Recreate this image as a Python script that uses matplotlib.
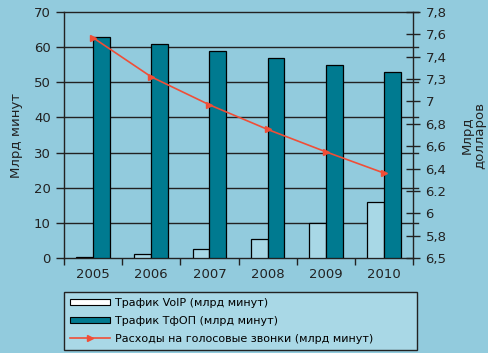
import matplotlib.pyplot as plt
from matplotlib.patches import Patch
from matplotlib.lines import Line2D

years = ['2005', '2006', '2007', '2008', '2009', '2010']
voip = [0.3, 1.1, 2.6, 5.3, 9.9, 15.8]
pstn = [63, 61, 59, 57, 55, 53]
spend = [7.57, 7.22, 6.97, 6.75, 6.55, 6.36]
right_ticks = [5.6, 5.8, 6.0, 6.2, 6.4, 6.6, 6.8, 7.0, 7.2, 7.4, 7.6, 7.8]
right_labels = ['6,5', '5,8', '6', '6.2', '6,4', '6,6', '6,8', '7', '7,3', '7,4', '7,6', '7,8']

bg = '#92cbdd'
teal = '#007a90'
light = '#a8d8e6'
red = '#f04e37'
dark = '#222222'

plt.rcParams['font.family'] = ['DejaVu Sans']
plt.rcParams['font.size'] = 9

fig = plt.figure(figsize=(4.89, 3.53), dpi=100, facecolor=bg)
ax = fig.add_axes([0.1309, 0.2691, 0.7137, 0.6969])
ax.set_facecolor(bg)

x = list(range(len(years)))
w = 0.29
ax.bar([i - w for i in x], voip, width=w, align='edge', color=light,
       edgecolor='black', linewidth=0.9, zorder=3)
ax.bar(x, pstn, width=w, align='edge', color=teal,
       edgecolor='black', linewidth=0.9, zorder=3)

ax.set_xlim(-0.5, 5.5)
ax.set_ylim(0, 70)
ax.set_yticks(range(0, 71, 10))
for y in range(10, 71, 10):
    ax.axhline(y, xmin=0, xmax=1.015, color=dark, linewidth=1.0, zorder=1, clip_on=False)

# boundary ticks between years, year names centred on the groups
ax.set_xticks([i - 0.5 for i in range(len(years) + 1)])
ax.set_xticklabels([])
ax.set_xticks(x, minor=True)
ax.set_xticklabels(years, minor=True)
ax.tick_params(axis='x', which='major', length=5, width=1.0, color=dark, direction='out')
ax.tick_params(axis='x', which='minor', length=0, pad=7, labelsize=9.5, colors=dark)
ax.tick_params(axis='y', length=6, width=1.0, color=dark, labelsize=9.5, labelcolor=dark)

for s in ['top', 'right']:
    ax.spines[s].set_visible(False)
for s in ['left', 'bottom']:
    ax.spines[s].set_color(dark)
    ax.spines[s].set_linewidth(1.0)
ax.set_ylabel('Млрд минут', fontsize=9.5, color=dark, labelpad=8)

ax2 = ax.twinx()
ax2.plot(x, spend, color=red, linewidth=1.2, marker='>', markersize=5, zorder=5)
ax2.set_ylim(5.6, 7.8)
ax2.set_yticks(right_ticks)
ax2.set_yticklabels(right_labels)
ax2.tick_params(axis='y', direction='inout', length=10, width=1.0, color=dark,
                labelsize=9.5, labelcolor=dark, pad=4)
for s in ['top', 'left', 'bottom']:
    ax2.spines[s].set_visible(False)
ax2.spines['right'].set_color(dark)
ax2.spines['right'].set_linewidth(1.0)
ax2.set_ylabel('Млрд\nдолларов', fontsize=9.5, color=dark, rotation=90,
               labelpad=10, linespacing=1.0)

handles = [
    Patch(facecolor='white', edgecolor='black', linewidth=0.8),
    Patch(facecolor=teal, edgecolor='black', linewidth=0.8),
    Line2D([0, 1, 2], [0, 0, 0], color=red, linewidth=1.2, marker='>',
           markersize=5, markevery=[1]),
]
labels = ['Трафик VoIP (млрд минут)', 'Трафик ТфОП (млрд минут)',
          'Расходы на голосовые звонки (млрд минут)']
leg = fig.legend(handles, labels, loc='upper left',
                 bbox_to_anchor=(0.131, 0.173, 0.722, 0.0), mode='expand',
                 fontsize=8, frameon=True, fancybox=False, handlelength=3.6,
                 handleheight=0.5, labelspacing=0.7, borderpad=0.55,
                 handletextpad=0.4, borderaxespad=0)
leg.get_frame().set_facecolor('#a9d8e6')
leg.get_frame().set_edgecolor(dark)
leg.get_frame().set_linewidth(1.0)
leg.get_frame().set_alpha(1)

fig.savefig('out.png', dpi=100, facecolor=bg)
